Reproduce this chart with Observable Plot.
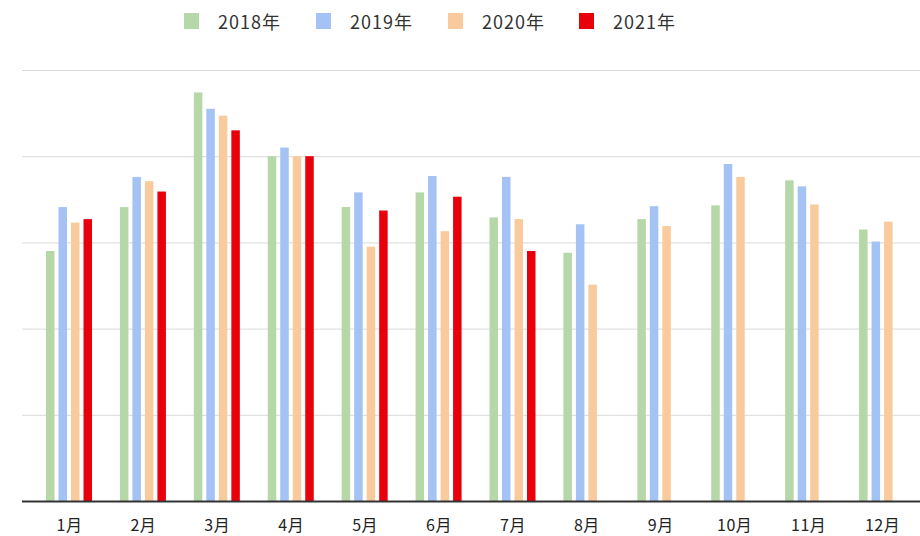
<!DOCTYPE html>
<html>
<head>
<meta charset="utf-8">
<script src="https://cdn.jsdelivr.net/npm/d3@7"></script>
<script src="https://cdn.jsdelivr.net/npm/@observablehq/plot@0.6"></script>
<style>
  html, body { margin: 0; padding: 0; background: #fff; }
  body { width: 920px; height: 536px; overflow: hidden; font-family: "Noto Sans CJK SC", "Noto Sans", sans-serif; }
  #legend { height: 44px; position: relative; }
  .item { position: absolute; top: 0; height: 44px; display: flex; align-items: center; font-size: 18px; letter-spacing: 1px; color: #333; }
  .sw { width: 15px; height: 16px; margin-right: 19px; margin-top: -3px; }
  .lab { margin-top: -3px; }
</style>
</head>
<body>
<div id="legend"></div>
<div id="chart"></div>
<script>
const months = ["1月","2月","3月","4月","5月","6月","7月","8月","9月","10月","11月","12月"];
const years = ["2018年","2019年","2020年","2021年"];
const colors = ["#b6d7a8","#a4c2f4","#f9cb9c","#e8000a"];
const v2018 = [29.0, 34.1, 47.4, 40.0, 34.1, 35.8, 32.9, 28.8, 32.7, 34.3, 37.2, 31.5];
const v2019 = [34.1, 37.6, 45.5, 41.0, 35.8, 37.7, 37.6, 32.1, 34.2, 39.1, 36.5, 30.1];
const v2020 = [32.3, 37.1, 44.7, 40.0, 29.5, 31.3, 32.7, 25.1, 31.9, 37.6, 34.4, 32.4];
const v2021 = [32.7, 35.9, 43.0, 40.0, 33.7, 35.3, 29.0];
const gridTicks = [10, 20, 30, 40, 50];

const series = [v2018, v2019, v2020, v2021];
const data = [];
series.forEach((vals, k) => vals.forEach((v, i) => data.push({month: months[i], year: years[k], value: v})));

// legend
const legend = document.getElementById("legend");
const legendX = [184, 316, 448, 579];
years.forEach((y, k) => {
  const it = document.createElement("div");
  it.className = "item";
  it.style.left = legendX[k] + "px";
  it.innerHTML = `<span class="sw" style="background:${colors[k]}"></span><span class="lab">${y}</span>`;
  legend.appendChild(it);
});

const xLeft = 32, xRight = 919;
const bw = (xRight - xLeft) / months.length;
const barW = 8.5;
const offsets = [14, 26.5, 39, 51.5];

const marks = [
  Plot.ruleY(gridTicks, {stroke: "#d9d9d9", strokeWidth: 1})
];
years.forEach((y, k) => {
  marks.push(Plot.barY(data.filter(d => d.year === y), {
    x: "month", y: "value", fill: colors[k],
    insetLeft: offsets[k], insetRight: bw - offsets[k] - barW
  }));
});
marks.push(Plot.ruleY([0], {stroke: "#333", strokeWidth: 2}));

const chart = Plot.plot({
  width: 920,
  height: 492,
  marginLeft: 22,
  marginRight: 0,
  marginTop: 26,
  marginBottom: 35,
  style: {fontFamily: '"Noto Sans CJK SC", "Noto Sans", sans-serif', fontSize: "16px", letterSpacing: "0.5px", color: "#222", background: "#fff"},
  x: {domain: months, range: [xLeft, xRight], padding: 0, round: false, tickSize: 0, tickPadding: 18, label: null},
  y: {domain: [0, 50], axis: null},
  marks
});
document.getElementById("chart").appendChild(chart);
</script>
</body>
</html>
